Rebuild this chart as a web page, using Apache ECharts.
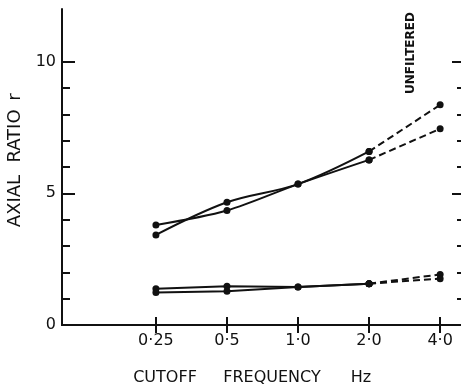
<!DOCTYPE html>
<html>
<head>
<meta charset="utf-8">
<script src="https://cdn.jsdelivr.net/npm/echarts@6/dist/echarts.min.js"></script>
<style>
  html, body { margin: 0; padding: 0; background: #fff; }
  #chart { width: 461px; height: 385px; }
</style>
</head>
<body>
<div id="chart"></div>
<script>
// Cutoff frequencies (Hz) and their printed labels
const freqs = [0.25, 0.5, 1, 2, 4];
const freqLabels = ['0·25', '0·5', '1·0', '2·0', '4·0'];

// Axial ratio r for the four runs; last value is the unfiltered case
const upperA = [3.42, 4.66, 5.35, 6.59, 8.36];
const upperB = [3.80, 4.35, 5.35, 6.27, 7.45];
const lowerA = [1.38, 1.47, 1.44, 1.57, 1.92];
const lowerB = [1.23, 1.28, 1.44, 1.57, 1.76];

// Axis ticks
const yMajorTicks = [0, 5, 10];
const yMinorTicks = [1, 2, 3, 4, 6, 7, 8, 9];

const INK = '#111';
const FONT = 'DejaVu Sans';

function pairs(vals, from, to) {
  const out = [];
  for (let i = from; i < to; i++) out.push([freqs[i], vals[i]]);
  return out;
}

function solid(vals, smooth) {
  return {
    type: 'line', xAxisIndex: 0, yAxisIndex: 0,
    data: pairs(vals, 0, 4),
    smooth: smooth,
    symbol: 'circle', symbolSize: 7,
    itemStyle: { color: INK },
    lineStyle: { color: INK, width: 2 },
    animation: false, silent: true
  };
}
function dashed(vals) {
  return {
    type: 'line', xAxisIndex: 0, yAxisIndex: 0,
    data: pairs(vals, 3, 5),
    symbol: 'circle', symbolSize: 7,
    itemStyle: { color: INK },
    lineStyle: { color: INK, width: 2, type: [7, 4] },
    animation: false, silent: true
  };
}

function xAxisDef(pos, showLabel) {
  return {
    type: 'log', logBase: 2, min: 0.1, max: 5, position: pos,
    axisLine: { show: true, lineStyle: { color: INK, width: 2 } },
    axisTick: { show: true, inside: true, length: 8, customValues: freqs,
                lineStyle: { color: INK, width: 2 } },
    axisLabel: { show: showLabel, customValues: freqs, margin: 8,
                 color: INK, fontFamily: FONT, fontSize: 16,
                 formatter: v => freqLabels[freqs.indexOf(+v)] ?? '' },
    splitLine: { show: false }, minorTick: { show: false }
  };
}

function yAxisDef(pos, ticks, len, showLine, showLabel) {
  return {
    type: 'value', min: 0, max: 12, position: pos,
    axisLine: { show: showLine, lineStyle: { color: INK, width: 2 } },
    axisTick: { show: true, inside: true, length: len, customValues: ticks,
                lineStyle: { color: INK, width: 2 } },
    axisLabel: { show: showLabel, customValues: ticks, margin: 6,
                 color: INK, fontFamily: FONT, fontSize: 16 },
    splitLine: { show: false }
  };
}

function label(text, x, y, size, rot, weight) {
  return {
    type: 'text', x: x, y: y, rotation: rot || 0, silent: true,
    style: { text: text, fill: INK, font: (weight || 'normal') + ' ' + size + 'px "' + FONT + '"',
             align: 'center', verticalAlign: 'middle' }
  };
}

const chart = echarts.init(document.getElementById('chart'), null, { renderer: 'canvas' });
chart.setOption({
  backgroundColor: '#fff',
  animation: false,
  grid: { left: 62, top: 9, width: 401, height: 316, containLabel: false, outerBoundsMode: 'none' },
  xAxis: [xAxisDef('bottom', true), xAxisDef('top', false)],
  yAxis: [
    yAxisDef('left', yMajorTicks, 13, true, true),
    yAxisDef('left', yMinorTicks, 8, false, false),
    yAxisDef('right', yMajorTicks, 11, false, false),
    yAxisDef('right', yMinorTicks, 6, false, false)
  ],
  series: [
    solid(upperA, 0.35), dashed(upperA),
    solid(upperB, 0.3), dashed(upperB),
    solid(lowerA, false), dashed(lowerA),
    solid(lowerB, false), dashed(lowerB)
  ],
  graphic: [
    label('CUTOFF', 165, 378, 16),
    label('FREQUENCY', 272, 378, 16),
    label('Hz', 361, 378, 16),
    label('AXIAL', 15, 201, 18, Math.PI / 2),
    label('RATIO', 15, 136, 18, Math.PI / 2),
    label('r', 15, 97, 18, Math.PI / 2),
    label('UNFILTERED', 411, 53, 12, Math.PI / 2, 'bold')
  ]
});
</script>
</body>
</html>
